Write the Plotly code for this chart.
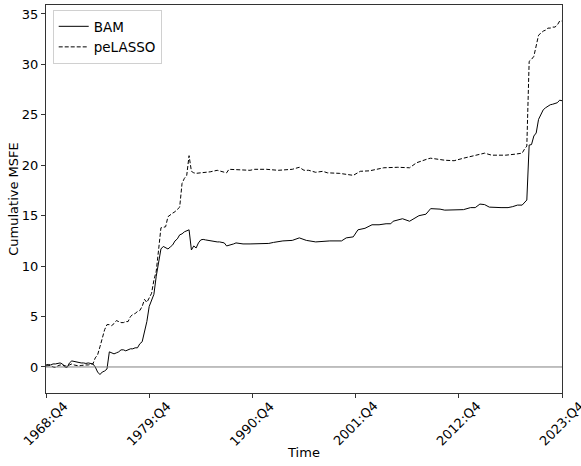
import plotly.graph_objects as go

# quarters since 1968:Q4 and cumulative MSFE values
bam_q = [0, 1, 2, 3, 4, 5, 6, 7, 8, 9, 10, 11, 12, 13, 14, 15, 16, 17, 18, 19, 20,
         21, 22, 23, 24, 25, 26, 27, 28, 29, 30, 31, 32, 33, 34, 35, 36, 37, 38, 39,
         40, 41, 42, 43, 44, 45, 46, 47, 48, 49, 50, 51, 52, 53, 54, 55, 56, 57, 58,
         59, 60, 61, 62, 63, 64, 65, 66, 67, 68, 69, 70, 71, 72, 73, 74, 75, 76, 77,
         78, 79, 80, 81, 82, 83, 84, 87, 91, 95, 97, 101, 105, 108, 111, 115, 121,
         126, 128, 131, 133, 136, 139, 142, 145, 147, 148, 152, 155, 157, 159, 162,
         164, 168, 170, 178, 181, 183, 185, 187, 189, 194, 197, 199, 201, 203, 204,
         205, 206, 207, 208, 209, 210, 211, 212, 213, 214, 215, 216, 217, 218, 219, 220]
bam_v = [0.2, 0.25, 0.2, 0.3, 0.3, 0.35, 0.4, 0.3, 0.0, -0.05, 0.4, 0.6, 0.55, 0.45,
         0.45, 0.4, 0.4, 0.35, 0.4, 0.35, 0.3, 0.0, -0.5, -0.75, -0.5, -0.4, -0.2,
         1.5, 1.4, 1.3, 1.4, 1.5, 1.7, 1.7, 1.6, 1.7, 1.8, 1.8, 1.9, 1.9, 2.3, 2.5,
         3.5, 4.5, 6.0, 6.7, 7.2, 9.0, 10.5, 11.7, 11.95, 11.8, 11.7, 11.9, 12.1,
         12.5, 12.7, 13.1, 13.2, 13.4, 13.5, 13.6, 11.6, 12.0, 11.8, 12.3, 12.6,
         12.65, 12.6, 12.55, 12.5, 12.5, 12.45, 12.4, 12.4, 12.35, 12.3, 12.0, 12.05,
         12.15, 12.2, 12.3, 12.25, 12.2, 12.2, 12.2, 12.2, 12.25, 12.35, 12.5, 12.55,
         12.8, 12.55, 12.4, 12.5, 12.5, 12.8, 12.9, 13.6, 13.75, 14.1, 14.1, 14.2,
         14.2, 14.45, 14.7, 14.45, 14.7, 15.0, 15.15, 15.7, 15.65, 15.55, 15.6, 15.8,
         15.8, 16.15, 16.1, 15.85, 15.8, 15.8, 15.9, 16.05, 16.05, 16.3, 16.55, 22.0,
         22.05, 22.9, 23.2, 24.55, 25.0, 25.5, 25.7, 25.85, 26.0, 26.05, 26.1, 26.2,
         26.45, 26.4]

pel_q = [0, 1, 2, 3, 4, 5, 6, 7, 8, 9, 10, 11, 12, 13, 14, 15, 16, 17, 18, 19, 20,
         21, 22, 23, 24, 25, 26, 27, 28, 29, 30, 31, 32, 33, 34, 35, 36, 37, 38, 39,
         40, 41, 42, 43, 44, 45, 46, 47, 48, 49, 50, 51, 52, 53, 54, 55, 56, 57, 58,
         59, 60, 61, 62, 63, 64, 67, 70, 73, 75, 77, 78, 82, 87, 89, 94, 99, 105, 108,
         110, 112, 115, 118, 120, 125, 131, 134, 138, 144, 150, 155, 158, 163, 164,
         170, 174, 178, 182, 187, 190, 196, 200, 203, 204, 205, 206, 207, 208, 209,
         210, 211, 212, 213, 214, 215, 216, 217, 218, 219, 220]
pel_v = [0.1, 0.1, 0.15, 0.0, -0.05, 0.1, 0.2, 0.2, 0.1, 0.05, 0.2, 0.3, 0.2, 0.15,
         0.1, 0.15, 0.2, 0.2, 0.2, 0.25, 0.3, 0.9, 1.2, 2.0, 3.0, 3.7, 4.2, 4.2, 4.1,
         4.3, 4.6, 4.5, 4.4, 4.4, 4.5, 4.5, 5.0, 5.2, 5.3, 5.5, 5.6, 6.0, 6.7, 6.4,
         6.8, 7.3, 8.6, 9.5, 11.6, 13.8, 13.85, 13.9, 14.9, 15.1, 15.25, 15.4, 15.6,
         15.85, 18.2, 18.7, 19.0, 20.95, 19.4, 19.25, 19.2, 19.25, 19.35, 19.5, 19.4,
         19.25, 19.6, 19.55, 19.5, 19.6, 19.6, 19.5, 19.6, 19.8, 19.5, 19.5, 19.3,
         19.4, 19.25, 19.2, 19.0, 19.4, 19.45, 19.75, 19.8, 19.75, 20.25, 20.65, 20.7,
         20.5, 20.45, 20.7, 20.9, 21.2, 21.0, 21.0, 21.1, 21.2, 21.6, 21.9, 30.3, 30.5,
         30.8, 31.8, 32.9, 33.1, 33.3, 33.4, 33.6, 33.6, 33.7, 33.7, 33.9, 34.3, 34.3]

tick_q = [0, 44, 88, 132, 176, 220]
tick_labels = ["1968:Q4", "1979:Q4", "1990:Q4", "2001:Q4", "2012:Q4", "2023:Q4"]
y_ticks = [0, 5, 10, 15, 20, 25, 30, 35]

font = "DejaVu Sans, Arial, sans-serif"
fig = go.Figure()
fig.add_trace(go.Scatter(x=bam_q, y=bam_v, mode="lines", name="BAM",
                         line=dict(color="black", width=1)))
fig.add_trace(go.Scatter(x=pel_q, y=pel_v, mode="lines", name="peLASSO",
                         line=dict(color="black", width=1, dash="4px,2px")))
fig.add_hline(y=0, line=dict(color="gray", width=1))

# x tick labels rotated 45 degrees and centred on their ticks
for q, lab in zip(tick_q, tick_labels):
    fig.add_annotation(x=q, xref="x", y=0, yref="paper", text=lab,
                       textangle=-45, showarrow=False, xanchor="center",
                       yanchor="top", yshift=-3, font=dict(size=13))

fig.update_layout(
    width=581, height=466,
    margin=dict(l=46, r=19, t=5, b=73),
    plot_bgcolor="white", paper_bgcolor="white",
    font=dict(family=font, size=12, color="black"),
    showlegend=True,
    legend=dict(x=0.013, y=0.987, xanchor="left", yanchor="top",
                bgcolor="white", bordercolor="#d0d0d0", borderwidth=1,
                font=dict(size=13.5), tracegroupgap=0),
    xaxis=dict(range=[0, 220], tickvals=tick_q, showticklabels=False,
               ticks="outside", ticklen=4, tickcolor="#333", automargin=False,
               showgrid=False, zeroline=False, showline=True, linecolor="#333",
               linewidth=1, mirror=True,
               title=dict(text="Time", standoff=50, font=dict(size=13))),
    yaxis=dict(range=[-2.58, 35.89], tickvals=y_ticks, ticks="outside", ticklen=4,
               tickcolor="#333", tickfont=dict(size=13), automargin=False,
               showgrid=False, zeroline=False, showline=True,
               linecolor="#333", linewidth=1, mirror=True,
               title=dict(text="Cumulative MSFE", standoff=0, font=dict(size=13))),
)
fig.write_html("out.html", config={"displayModeBar": False},
               post_script="document.body.style.margin='0';")
